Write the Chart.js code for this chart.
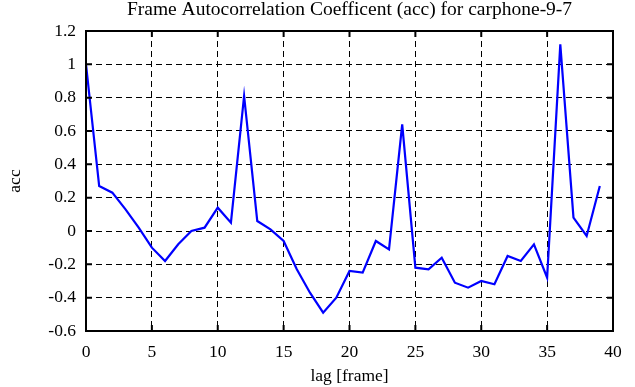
<!DOCTYPE html>
<html>
<head>
<meta charset="utf-8">
<script src="https://cdn.jsdelivr.net/npm/chart.js@4"></script>
<style>
  html, body { margin: 0; padding: 0; background: #fff; }
  #wrap { width: 635px; height: 387px; }
</style>
</head>
<body>
<div id="wrap"><canvas id="acc"></canvas></div>
<script>
// lag in frames
const lags = [0,1,2,3,4,5,6,7,8,9,10,11,12,13,14,15,16,17,18,19,
              20,21,22,23,24,25,26,27,28,29,30,31,32,33,34,35,36,37,38,39];
// autocorrelation coefficient per lag
const accValues = [1.0, 0.27, 0.23, 0.13, 0.02, -0.10, -0.18, -0.08, 0.0, 0.02,
                   0.14, 0.05, 0.81, 0.06, 0.01, -0.06, -0.23, -0.37, -0.49, -0.40,
                   -0.24, -0.25, -0.06, -0.11, 0.64, -0.22, -0.23, -0.16, -0.31, -0.34,
                   -0.30, -0.32, -0.15, -0.18, -0.08, -0.28, 1.12, 0.08, -0.03, 0.27];
const xTicks = [0, 5, 10, 15, 20, 25, 30, 35, 40];
const yTicks = [-0.6, -0.4, -0.2, 0, 0.2, 0.4, 0.6, 0.8, 1, 1.2];

const serif = "'Liberation Serif', 'DejaVu Serif', serif";
const fsize = 17.5;

// solid frame + inward tick marks, like the old gnuplot look
const framePlugin = {
  id: "frame",
  afterDraw(chart) {
    const { ctx, chartArea: a, scales } = chart;
    ctx.save();
    ctx.strokeStyle = "#000";
    ctx.lineWidth = 2;
    ctx.setLineDash([]);
    const tl = 6;
    ctx.beginPath();
    xTicks.forEach((v) => {
      const px = scales.x.getPixelForValue(v);
      ctx.moveTo(px, a.bottom); ctx.lineTo(px, a.bottom - tl);
      ctx.moveTo(px, a.top); ctx.lineTo(px, a.top + tl);
    });
    yTicks.forEach((v) => {
      const py = scales.y.getPixelForValue(v);
      ctx.moveTo(a.left, py); ctx.lineTo(a.left + tl, py);
      ctx.moveTo(a.right, py); ctx.lineTo(a.right - tl, py);
    });
    ctx.stroke();
    ctx.strokeRect(a.left, a.top, a.right - a.left, a.bottom - a.top);
    ctx.restore();
  },
};

const config = {
  type: "line",
  data: {
    datasets: [
      {
        data: lags.map((l, i) => ({ x: l, y: accValues[i] })),
        borderColor: "#0000ff",
        borderWidth: 2.2,
        pointRadius: 0,
        tension: 0,
        fill: false,
      },
    ],
  },
  options: {
    responsive: true,
    maintainAspectRatio: false,
    animation: false,
    layout: { padding: { right: 22, top: 0, left: 0, bottom: 0 } },
    plugins: {
      legend: { display: false },
      tooltip: { enabled: false },
      title: {
        display: true,
        fullSize: false,
        text: "Frame Autocorrelation Coefficent (acc) for carphone-9-7",
        color: "#000",
        font: { family: serif, size: 19.5, weight: "normal", lineHeight: 1.0 },
        padding: { top: 0, bottom: 11.5 },
      },
    },
    scales: {
      x: {
        type: "linear",
        min: 0,
        max: 40,
        afterBuildTicks: (s) => { s.ticks = xTicks.map((v) => ({ value: v })); },
        afterFit: (s) => { s.height = 56; },
        ticks: { color: "#000", font: { family: serif, size: fsize }, padding: 11, maxRotation: 0 },
        grid: { color: "#000", lineWidth: 1, drawTicks: false },
        border: { display: false },
        title: {
          display: true,
          text: "lag [frame]",
          color: "#000",
          font: { family: serif, size: fsize },
          padding: { top: 0, bottom: 0 },
        },
      },
      y: {
        type: "linear",
        min: -0.6,
        max: 1.2,
        afterBuildTicks: (s) => { s.ticks = yTicks.map((v) => ({ value: v })); },
        afterFit: (s) => { s.width = 86; },
        ticks: {
          color: "#000",
          font: { family: serif, size: fsize },
          padding: 10,
          callback: (v) => String(Math.round(v * 10) / 10),
        },
        grid: { color: "#000", lineWidth: 1, drawTicks: false },
        border: { display: false },
        title: {
          display: true,
          text: "acc",
          color: "#000",
          font: { family: serif, size: fsize },
          padding: { top: 5, bottom: 0 },
        },
      },
    },
  },
  plugins: [framePlugin],
};

// dashed grid lines
["x", "y"].forEach((k) => {
  config.options.scales[k].border.dash = [6, 4];
});

const ctx = document.getElementById("acc").getContext("2d");
window.accChart = new Chart(ctx, config);
</script>
</body>
</html>
